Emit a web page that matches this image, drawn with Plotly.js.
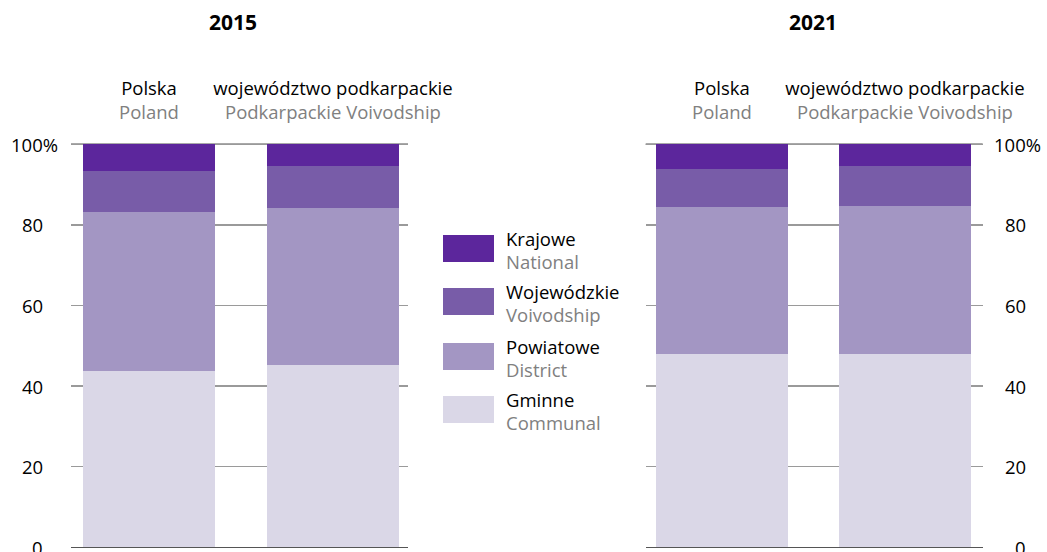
<!DOCTYPE html>
<html><head><meta charset="utf-8">
<script src="https://cdn.plot.ly/plotly-3.0.1.min.js"></script>
<style>html,body{margin:0;padding:0;background:#fff}#chart{width:1047px;height:552px}</style>
</head><body><div id="chart"></div>
<script>
// ---- data ----
const years = ['2015', '2021'];
const categories = ['Polska', 'województwo podkarpackie'];
const categoriesEn = ['Poland', 'Podkarpackie Voivodship'];
const seriesPl = ['Gminne', 'Powiatowe', 'Wojewódzkie', 'Krajowe'];
const seriesEn = ['Communal', 'District', 'Voivodship', 'National'];
const gminne2015 = [43.8, 45.2];
const powiatowe2015 = [39.4, 39.0];
const wojewodzkie2015 = [10.2, 10.5];
const krajowe2015 = [6.6, 5.3];
const gminne2021 = [48.0, 48.0];
const powiatowe2021 = [36.4, 36.7];
const wojewodzkie2021 = [9.5, 10.0];
const krajowe2021 = [6.1, 5.3];
const yTickVals = [0, 20, 40, 60, 80, 100];
const yTickText = ['0', '20', '40', '60', '80', '100%'];

// ---- style ----
const colors = ['#dad7e7', '#a396c3', '#785ca8', '#5c269c'];
const FONT = 'Open Sans, sans-serif';
const FS = 18.5;
const GREY = '#808080';

const data2015 = [gminne2015, powiatowe2015, wojewodzkie2015, krajowe2015];
const data2021 = [gminne2021, powiatowe2021, wojewodzkie2021, krajowe2021];

const traces = [];
[data2015, data2021].forEach((set, p) => {
  set.forEach((vals, i) => {
    traces.push({
      type: 'bar', x: categories, y: vals, name: seriesPl[i],
      marker: {color: colors[i], line: {width: 0}},
      xaxis: p === 0 ? 'x' : 'x2', yaxis: p === 0 ? 'y' : 'y2',
      hoverinfo: 'skip', showlegend: false
    });
  });
});

const catTicks = categories.map((c, i) => c + '<br><span style="color:' + GREY + '">' + categoriesEn[i] + '</span>');

// y scale: 0 -> 547.3px, 100 -> 144.3px; range padded by 1 unit each side
const pxPerUnit = (547.3 - 144.3) / 100;
const yDomain = [(552 - (547.3 + pxPerUnit)) / 552, (552 - (144.3 - pxPerUnit)) / 552];

const xBase = {
  type: 'category', side: 'top', showgrid: false, zeroline: false, showline: false,
  ticks: '', tickvals: categories, ticktext: catTicks, ticklabelstandoff: 17,
  tickfont: {family: FONT, size: FS, color: '#000'}, fixedrange: true
};
const yBase = {
  range: [-1, 101], tickvals: yTickVals, showticklabels: false, showgrid: true,
  gridcolor: '#9a9a9a', gridwidth: 1.5, zeroline: true, zerolinecolor: '#555555', zerolinewidth: 1.5,
  showline: false, ticks: '', domain: yDomain, fixedrange: true
};

const shapes = [];
const annotations = [];
// darker top gridline at 100%
['x', 'x2'].forEach((ax, p) => {
  shapes.push({type: 'line', xref: ax + ' domain', yref: p === 0 ? 'y' : 'y2',
    x0: 0, x1: 1, y0: yTickVals[yTickVals.length - 1], y1: yTickVals[yTickVals.length - 1],
    line: {color: '#555555', width: 1.5}, layer: 'below'});
});
// y tick labels: numbers right-aligned, "%" hanging past the digits
const numRight = [45 / 1047, 1028 / 1047];
['y', 'y2'].forEach((ya, p) => {
  yTickVals.forEach((v, i) => {
    const t = yTickText[i];
    annotations.push({xref: 'paper', yref: ya, x: numRight[p], y: v, xanchor: 'right', yanchor: 'middle',
      xshift: t.endsWith('%') ? 15 : 0, showarrow: false, text: t,
      font: {family: FONT, size: FS, color: '#000'}});
  });
});
// legend (top to bottom: Krajowe ... Gminne)
const legTop = [235, 288, 343, 396];
for (let k = 0; k < 4; k++) {
  const i = 3 - k;
  const y0 = legTop[k];
  shapes.push({type: 'rect', xref: 'paper', yref: 'paper',
    x0: 443 / 1047, x1: 494 / 1047, y0: 1 - (y0 + 27) / 552, y1: 1 - y0 / 552,
    fillcolor: colors[i], line: {width: 0}});
  annotations.push({xref: 'paper', yref: 'paper', x: 504 / 1047, y: 1 - (y0 + 3) / 552,
    xanchor: 'left', yanchor: 'middle', showarrow: false,
    text: seriesPl[i], font: {family: FONT, size: FS, color: '#000'}});
  annotations.push({xref: 'paper', yref: 'paper', x: 504 / 1047, y: 1 - (y0 + 26) / 552,
    xanchor: 'left', yanchor: 'middle', showarrow: false,
    text: seriesEn[i], font: {family: FONT, size: FS, color: GREY}});
}
annotations.push({xref: 'paper', yref: 'paper', x: 233 / 1047, y: 1 - 22 / 552, xanchor: 'center', yanchor: 'middle',
  showarrow: false, text: '<b>' + years[0] + '</b>', font: {family: FONT, size: 21, color: '#000'}});
annotations.push({xref: 'paper', yref: 'paper', x: 813 / 1047, y: 1 - 22 / 552, xanchor: 'center', yanchor: 'middle',
  showarrow: false, text: '<b>' + years[1] + '</b>', font: {family: FONT, size: 21, color: '#000'}});

const layout = {
  width: 1047, height: 552, margin: {l: 0, r: 0, t: 0, b: 0},
  paper_bgcolor: '#fff', plot_bgcolor: 'rgba(0,0,0,0)',
  barmode: 'stack', bargap: 0.283, showlegend: false,
  xaxis: Object.assign({}, xBase, {domain: [71 / 1047, 408 / 1047], range: [-0.424, 1.408], anchor: 'y'}),
  xaxis2: Object.assign({}, xBase, {domain: [645.7 / 1047, 982.7 / 1047], range: [-0.417, 1.425], anchor: 'y2'}),
  yaxis: Object.assign({}, yBase, {anchor: 'x', side: 'left'}),
  yaxis2: Object.assign({}, yBase, {anchor: 'x2', side: 'right'}),
  shapes: shapes, annotations: annotations
};

Plotly.newPlot('chart', traces, layout, {displayModeBar: false, staticPlot: true});
</script>
</body></html>
